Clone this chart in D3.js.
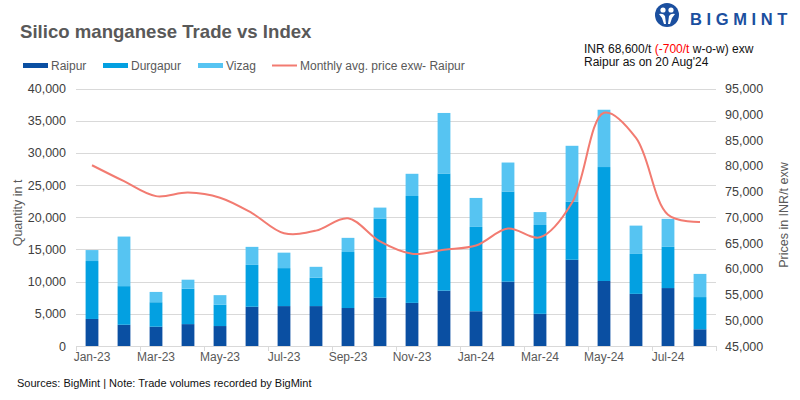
<!DOCTYPE html>
<html>
<head>
<meta charset="utf-8">
<script src="https://cdn.jsdelivr.net/npm/d3@7"></script>
<style>
  body { margin: 0; background: #fff; }
  text { font-family: "Liberation Sans", Arial, sans-serif; }
</style>
</head>
<body>
<div id="chart"></div>
<script>
var months = ["Jan-23","Feb-23","Mar-23","Apr-23","May-23","Jun-23","Jul-23","Aug-23","Sep-23","Oct-23",
  "Nov-23","Dec-23","Jan-24","Feb-24","Mar-24","Apr-24","May-24","Jun-24","Jul-24","Aug-24"];

var raipur   = [4200, 3300, 3000, 3400, 3100, 6100, 6200, 6200, 5900, 7500, 6700, 8600, 5400, 10000, 5000, 13400, 10100, 8100, 9000, 2600];
var durgapur = [9000, 6000, 3800, 5500, 3300, 6500, 5900, 4400, 8700, 12300, 16600, 18200, 13100, 14000, 13800, 9000, 17700, 6200, 6400, 5000];
var vizag    = [1700, 7700, 1600, 1400, 1500, 2800, 2400, 1700, 2200, 1700, 3450, 9400, 4500, 4500, 2000, 8700, 8900, 4400, 4350, 3600];

var price = [80100, 77000, 74100, 74800, 73800, 70800, 66900, 67400, 69800, 65300,
  62900, 63700, 64500, 67800, 66100, 72800, 90300, 85400, 70500, 69100];

var qtyTicks = [0, 5000, 10000, 15000, 20000, 25000, 30000, 35000, 40000];
var priceTicks = [45000, 50000, 55000, 60000, 65000, 70000, 75000, 80000, 85000, 90000, 95000];

var seriesNames = ["Raipur", "Durgapur", "Vizag"];
var colors = ["#0a4fa2", "#03a0e1", "#56c4f2"];
var lineColor = "#f27b71";
var textGray = "#595959";

var width = 800, height = 400;
var plotLeft = 76, plotRight = 716, plotTop = 88.5, plotBottom = 346;

var svg = d3.select("#chart").append("svg")
  .attr("width", width)
  .attr("height", height);

var x = d3.scaleBand()
  .domain(months)
  .range([plotLeft, plotRight])
  .paddingInner(0.6)
  .paddingOuter(0.3);

var y = d3.scaleLinear().domain([0, 40000]).range([plotBottom, plotTop]);
var y2 = d3.scaleLinear().domain([45000, 95000]).range([plotBottom, plotTop]);

// gridlines
svg.append("g")
  .selectAll("line")
  .data(qtyTicks.slice(1))
  .enter().append("line")
  .attr("x1", plotLeft).attr("x2", plotRight)
  .attr("y1", d => Math.round(y(d)) + 0.5).attr("y2", d => Math.round(y(d)) + 0.5)
  .attr("stroke", "#d9d9d9")
  .attr("stroke-width", 1);

// stacked bars
var rows = months.map((m, i) => ({ month: m, Raipur: raipur[i], Durgapur: durgapur[i], Vizag: vizag[i] }));
var stack = d3.stack().keys(seriesNames)(rows);

svg.append("g")
  .selectAll("g")
  .data(stack)
  .enter().append("g")
  .attr("fill", (d, i) => colors[i])
  .selectAll("rect")
  .data(d => d)
  .enter().append("rect")
  .attr("x", d => x(d.data.month))
  .attr("width", x.bandwidth())
  .attr("y", d => y(d[1]))
  .attr("height", d => y(d[0]) - y(d[1]));

// x axis line + ticks every two months
svg.append("line")
  .attr("x1", plotLeft).attr("x2", plotRight)
  .attr("y1", plotBottom + 0.5).attr("y2", plotBottom + 0.5)
  .attr("stroke", "#d9d9d9");

var tickPos = months.filter((m, i) => i % 2 === 0)
  .map(m => x(m) + x.bandwidth() / 2 - x.step() / 2);
tickPos.push(plotRight);

svg.append("g")
  .selectAll("line")
  .data(tickPos)
  .enter().append("line")
  .attr("x1", d => Math.round(d) + 0.5).attr("x2", d => Math.round(d) + 0.5)
  .attr("y1", plotBottom).attr("y2", plotBottom + 5)
  .attr("stroke", "#d9d9d9");

svg.append("g")
  .selectAll("text")
  .data(months.filter((m, i) => i % 2 === 0))
  .enter().append("text")
  .attr("x", d => x(d) + x.bandwidth() / 2)
  .attr("y", 361)
  .attr("text-anchor", "middle")
  .attr("font-size", 12)
  .attr("fill", textGray)
  .text(d => d);

// left axis labels
svg.append("g")
  .selectAll("text")
  .data(qtyTicks)
  .enter().append("text")
  .attr("x", 66)
  .attr("y", d => y(d) + 4.5)
  .attr("text-anchor", "end")
  .attr("font-size", 12.5)
  .attr("fill", "#404040")
  .text(d => d3.format(",")(d));

// right axis labels
svg.append("g")
  .selectAll("text")
  .data(priceTicks)
  .enter().append("text")
  .attr("x", 725)
  .attr("y", d => y2(d) + 4.5)
  .attr("text-anchor", "start")
  .attr("font-size", 12.5)
  .attr("fill", "#404040")
  .text(d => d3.format(",")(d));

svg.append("text")
  .attr("transform", "translate(22,213) rotate(-90)")
  .attr("text-anchor", "middle")
  .attr("font-size", 12.5)
  .attr("fill", textGray)
  .text("Quantity in t");

svg.append("text")
  .attr("transform", "translate(788,215) rotate(-90)")
  .attr("text-anchor", "middle")
  .attr("font-size", 12.5)
  .attr("fill", textGray)
  .text("Prices in INR/t exw");

// price line
var line = d3.line()
  .x((d, i) => x(months[i]) + x.bandwidth() / 2)
  .y(d => y2(d))
  .curve(d3.curveCatmullRom.alpha(0.5));

svg.append("path")
  .datum(price)
  .attr("d", line)
  .attr("fill", "none")
  .attr("stroke", lineColor)
  .attr("stroke-width", 2);

// title
svg.append("text")
  .attr("x", 20)
  .attr("y", 38)
  .attr("font-size", 18.6)
  .attr("font-weight", "bold")
  .attr("fill", textGray)
  .text("Silico manganese Trade vs Index");

// legend
var legend = [
  { name: "Raipur", x: 23, color: colors[0], type: "bar" },
  { name: "Durgapur", x: 103, color: colors[1], type: "bar" },
  { name: "Vizag", x: 198, color: colors[2], type: "bar" },
  { name: "Monthly avg. price exw- Raipur", x: 272, color: lineColor, type: "line" }
];

var lg = svg.append("g")
  .selectAll("g")
  .data(legend)
  .enter().append("g");

lg.filter(d => d.type === "bar").append("rect")
  .attr("x", d => d.x).attr("y", 63)
  .attr("width", 25).attr("height", 5)
  .attr("fill", d => d.color);

lg.filter(d => d.type === "line").append("line")
  .attr("x1", d => d.x).attr("x2", d => d.x + 25)
  .attr("y1", 65.5).attr("y2", 65.5)
  .attr("stroke", d => d.color)
  .attr("stroke-width", 2);

lg.append("text")
  .attr("x", d => d.x + 28)
  .attr("y", 70)
  .attr("font-size", 12)
  .attr("fill", textGray)
  .text(d => d.name);

// annotation
var note = svg.append("text")
  .attr("x", 584)
  .attr("y", 53)
  .attr("font-size", 12)
  .attr("fill", "#111");
note.append("tspan").text("INR 68,600/t ");
note.append("tspan").attr("fill", "#ff0000").text("(-700/t");
note.append("tspan").text(" w-o-w) exw");

svg.append("text")
  .attr("x", 584)
  .attr("y", 66)
  .attr("font-size", 12)
  .attr("fill", "#111")
  .text("Raipur as on 20 Aug'24");

// logo
var logoBlue = "#1b4f9f";
var logo = svg.append("g").attr("transform", "translate(667,15)");
logo.append("circle").attr("r", 12).attr("fill", logoBlue);
logo.append("circle").attr("cx", -4).attr("cy", -5).attr("r", 2.6).attr("fill", "#fff");
logo.append("circle").attr("cx", 4).attr("cy", -5).attr("r", 2.6).attr("fill", "#fff");
logo.append("path")
  .attr("d", "M-8,-1 Q-4,-2 -2,1 L-1,9 L-3,9 L-5,3 Z M8,-1 Q4,-2 2,1 L1,9 L3,9 L5,3 Z")
  .attr("fill", "#fff");

svg.append("text")
  .attr("x", 690)
  .attr("y", 25)
  .attr("font-size", 16.5)
  .attr("font-weight", "bold")
  .attr("letter-spacing", 4.6)
  .attr("fill", logoBlue)
  .text("BIGMINT");

// footer
svg.append("text")
  .attr("x", 17)
  .attr("y", 387)
  .attr("font-family", "'Liberation Sans Narrow', 'Liberation Sans', sans-serif")
  .attr("font-size", 11)
  .attr("fill", "#111")
  .text("Sources: BigMint | Note: Trade volumes recorded by BigMint");
</script>
</body>
</html>
